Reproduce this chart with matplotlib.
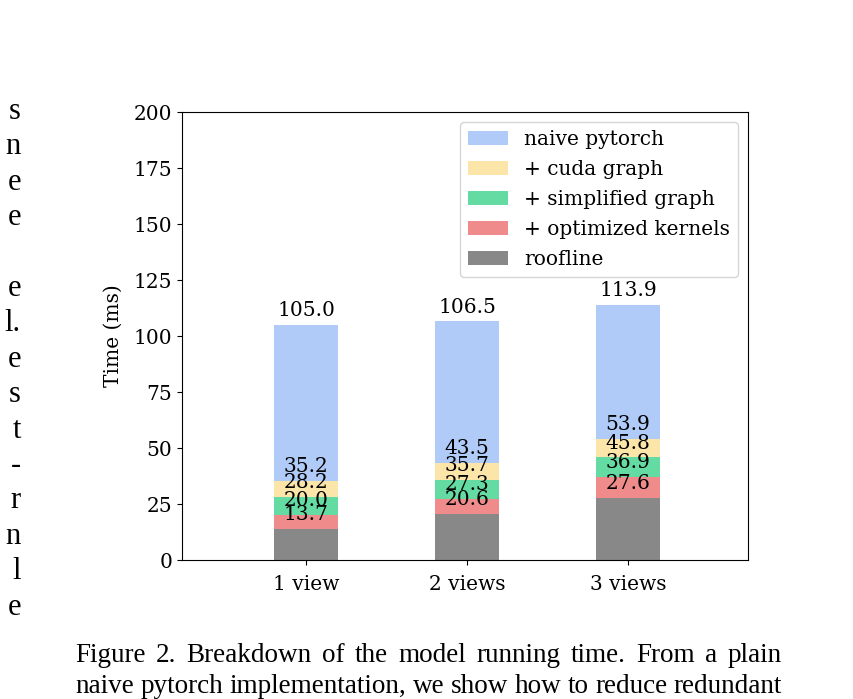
import matplotlib
matplotlib.use("Agg")
import matplotlib.pyplot as plt
import numpy as np

# ---------------- data ---------------- #

views = ["1 view", "2 views", "3 views"]
series_names = ["naive pytorch", "+ cuda graph", "+ simplified graph",
                "+ optimized kernels", "roofline"]
naive_pytorch = [105.0, 106.5, 113.9]
cuda_graph = [35.2, 43.5, 53.9]
simplified_graph = [28.2, 35.7, 45.8]
optimized_kernels = [20.0, 27.3, 36.9]
roofline = [13.7, 20.6, 27.6]

colors = ["#b0cbf8", "#fbe5a9", "#63dba3", "#f08b8b", "#888888"]

caption_lines = [
    "Figure 2. Breakdown of the model running time. From a plain",
    "naive pytorch implementation, we show how to reduce redundant",
]
# right edge of the neighbouring text column, one fragment per line
column_fragments = ["s", "n", "e", "e", "", "e", "l.", "e", "s", "t", "-",
                    "r", "n", "l", "e"]

# ---------------- plot ---------------- #

plt.rcParams["font.family"] = "DejaVu Serif"
plt.rcParams["font.size"] = 14.5

W, H = 854, 699
fig = plt.figure(figsize=(W / 100, H / 100), dpi=100)
ax = fig.add_axes([182 / W, 1 - 560 / H, (748 - 182) / W, (560 - 112) / H])

x = np.arange(len(views))
all_series = [naive_pytorch, cuda_graph, simplified_graph, optimized_kernels, roofline]
for name, vals, c in zip(series_names, all_series, colors):
    bars = ax.bar(x, vals, width=0.4, color=c, label=name)
    for b, v in zip(bars, vals):
        ax.annotate(f"{v:.1f}", (b.get_x() + b.get_width() / 2, v),
                    xytext=(0, 3.5), textcoords="offset points",
                    ha="center", va="bottom", fontsize=14.5)

ax.set_xticks(x)
ax.set_xticklabels(views)
ax.tick_params(axis="x", pad=7.5)
ax.set_xlim(-0.77, 2.745)
ax.set_ylim(0, 200)
ax.set_yticks(np.arange(0, 201, 25))
ax.set_ylabel("Time (ms)", labelpad=8)
ax.legend(loc="upper right", fontsize=14.5, labelspacing=0.55)

# caption, justified between x=75 and x=782
fig.canvas.draw()
renderer = fig.canvas.get_renderer()
left_px, right_px = 75, 782
for line, base in zip(caption_lines, [662, 693]):
    words = line.split(" ")
    texts = [fig.text(0, 1 - base / H, w, family="Liberation Serif", fontsize=19.5,
                      va="baseline", ha="left") for w in words]
    widths = [t.get_window_extent(renderer).width for t in texts]
    gap = (right_px - left_px - sum(widths)) / (len(words) - 1)
    pos = left_px
    for t, w in zip(texts, widths):
        t.set_x(pos / W)
        pos += w + gap

for i, frag in enumerate(column_fragments):
    if frag:
        fig.text(21 / W, 1 - (119 + 35.4 * i) / H, frag, family="Liberation Serif",
                 fontsize=22, ha="right", va="baseline")

fig.savefig("out.png", dpi=100)
